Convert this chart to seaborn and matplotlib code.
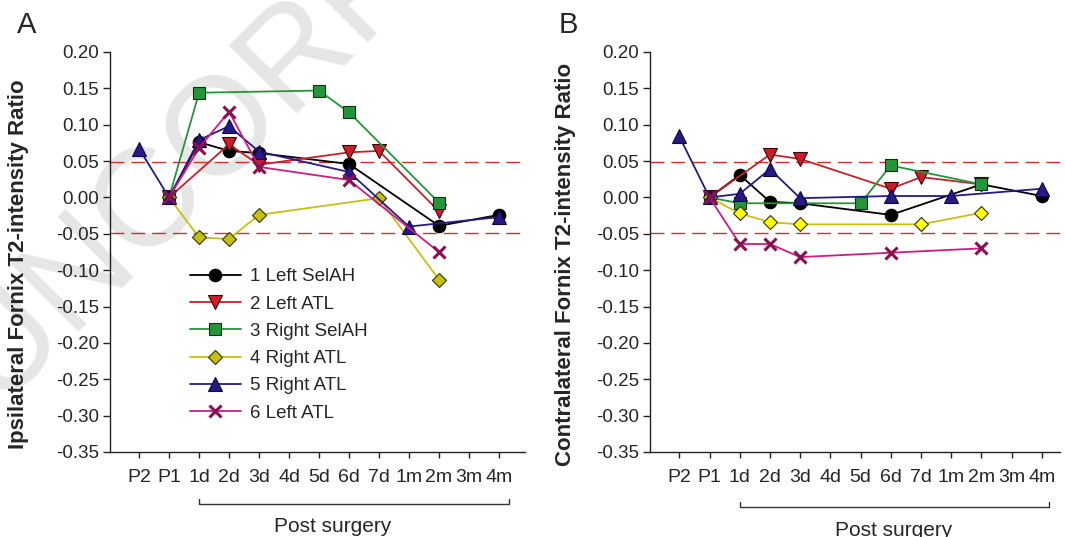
import numpy as np
import pandas as pd
import matplotlib
matplotlib.use("Agg")
import matplotlib.pyplot as plt
import matplotlib.transforms as mtrans
import seaborn as sns

nan = np.nan
time_labels = ["P2", "P1", "1d", "2d", "3d", "4d", "5d", "6d", "7d", "1m", "2m", "3m", "4m"]
series_names = ["1 Left SelAH", "2 Left ATL", "3 Right SelAH", "4 Right ATL", "5 Right ATL", "6 Left ATL"]

# Panel A: ipsilateral
ipsi_1 = [nan, 0.000, 0.076, 0.064, 0.061, nan, nan, 0.046, nan, nan, -0.039, nan, -0.024]
ipsi_2 = [nan, 0.000, nan, 0.073, 0.045, nan, nan, 0.062, 0.064, nan, -0.019, nan, nan]
ipsi_3 = [nan, 0.000, 0.144, nan, nan, nan, 0.147, 0.117, nan, nan, -0.007, nan, nan]
ipsi_4 = [nan, 0.000, -0.055, -0.057, -0.024, nan, nan, nan, -0.001, nan, -0.113, nan, nan]
ipsi_5 = [0.067, 0.000, 0.079, 0.098, 0.063, nan, nan, 0.035, nan, -0.040, nan, nan, -0.027]
ipsi_6 = [nan, 0.000, 0.068, 0.118, 0.042, nan, nan, 0.024, nan, nan, -0.075, nan, nan]

# Panel B: contralateral
contra_1 = [nan, 0.000, 0.031, -0.006, -0.008, nan, nan, -0.024, nan, nan, 0.018, nan, 0.002]
contra_2 = [nan, 0.000, nan, 0.059, 0.053, nan, nan, 0.012, 0.028, nan, 0.018, nan, nan]
contra_3 = [nan, 0.000, -0.008, nan, nan, nan, -0.008, 0.044, nan, nan, 0.018, nan, nan]
contra_4 = [nan, 0.000, -0.022, -0.034, -0.037, nan, nan, nan, -0.037, nan, -0.021, nan, nan]
contra_5 = [0.084, 0.000, 0.005, 0.039, -0.001, nan, nan, 0.002, nan, 0.002, nan, nan, 0.012]
contra_6 = [nan, 0.000, -0.064, -0.064, -0.082, nan, nan, -0.076, nan, nan, -0.070, nan, nan]

threshold = 0.049
yticks = [0.20, 0.15, 0.10, 0.05, 0.00, -0.05, -0.10, -0.15, -0.20, -0.25, -0.30, -0.35]

sns.set_style("ticks")
plt.rcParams["font.family"] = ["Liberation Sans", "DejaVu Sans"]

line_colors = ["#000000", "#c8202a", "#23963a", "#c8c010", "#261a86", "#d01a86"]
markers = ["o", "v", "s", "D", "^", "x"]
msizes = [9, 9.5, 8, 7.5, 9.5, 8]
edge_cols = ["#000000", "#400000", "#103010", "#303000", "#100840", "#600030"]
face_A = ["#000000", "#c8202a", "#23963a", "#c8c010", "#261a86", "#d01a86"]
face_B = ["#000000", "#c8202a", "#23963a", "#ffff00", "#261a86", "#d01a86"]

fig = plt.figure(figsize=(10.65, 5.37), dpi=100)
fig.text(0 / 1065, 1 - 410 / 537, "UNCORRECTED PROOF", rotation=45, fontsize=100,
         color="#e6e6e6", ha="left", va="baseline", rotation_mode="anchor", zorder=-1)

axA = fig.add_axes([110 / 1065, 1 - 452 / 537, 415 / 1065, 400 / 537])
axB = fig.add_axes([650 / 1065, 1 - 452 / 537, 410 / 1065, 400 / 537])

x = np.arange(len(time_labels))

def draw(ax, data, faces, ylabel, xmax, lab_x):
    ax.set_facecolor("none")
    ax.axhline(threshold, color="#d03030", lw=1.0, dashes=(10, 5), zorder=1)
    ax.axhline(-threshold, color="#d03030", lw=1.0, dashes=(10, 5), zorder=1)
    for i, vals in enumerate(data):
        v = np.array(vals, dtype=float)
        m = ~np.isnan(v)
        df = pd.DataFrame({"t": x[m], "v": v[m]})
        kw = dict(marker=markers[i], markersize=msizes[i], color=line_colors[i],
                  markerfacecolor=faces[i], markeredgecolor=edge_cols[i],
                  markeredgewidth=0.8, linewidth=1.3, label=series_names[i], zorder=3 + i)
        if markers[i] == "x":
            kw["markeredgewidth"] = 2.2
            kw["markeredgecolor"] = "#8a1050"
        sns.lineplot(data=df, x="t", y="v", ax=ax, sort=False, **kw)
    ax.set_xlim(-0.97, xmax)
    ax.set_ylim(-0.35, 0.20)
    ax.set_yticks(yticks)
    ax.set_yticklabels([f"{t:.2f}" for t in yticks], fontsize=13.5)
    ax.set_xticks(x)
    ax.set_xticklabels(time_labels, fontsize=14)
    ax.tick_params(axis="both", direction="out", length=5, width=1, color="#222222", pad=3)
    ax.tick_params(axis="x", pad=8, length=4)
    ax.set_xlabel("")
    ax.set_ylabel(ylabel, fontsize=16, fontweight="bold")
    ax.yaxis.set_label_coords(lab_x, 0.47)
    for s in ["top", "right"]:
        ax.spines[s].set_visible(False)
    for s in ["left", "bottom"]:
        ax.spines[s].set_linewidth(1.0)
        ax.spines[s].set_color("#222222")
    if ax.get_legend() is not None:
        ax.get_legend().remove()

draw(axA, [ipsi_1, ipsi_2, ipsi_3, ipsi_4, ipsi_5, ipsi_6], face_A,
     "Ipsilateral Fornix T2-intensity Ratio", 12.87, -0.195)
draw(axB, [contra_1, contra_2, contra_3, contra_4, contra_5, contra_6], face_B,
     "Contralateral Fornix T2-intensity Ratio", 12.6, -0.18)

# legend in panel A
h, l = axA.get_legend_handles_labels()
axA.legend(h, l, loc="upper left", bbox_to_anchor=(0.175, 0.478), frameon=False,
           fontsize=13.5, handlelength=2.7, handletextpad=0.5, labelspacing=0.54,
           borderaxespad=0)

# Post surgery brackets
for ax, yb, yt, xt, xe in [(axA, -0.13, -0.185, 6.45, 12.35), (axB, -0.137, -0.195, 7.1, 12.25)]:
    tr = mtrans.blended_transform_factory(ax.transData, ax.transAxes)
    ax.plot([2, 2, xe, xe], [yb + 0.013, yb, yb, yb + 0.013], color="#333333", lw=1.0,
            transform=tr, clip_on=False)
    ax.text(xt, yt, "Post surgery", transform=tr, ha="center", va="center", fontsize=15)

fig.text(27 / 1065, 1 - 25 / 537, "A", fontsize=21, ha="center", va="center")
fig.text(568 / 1065, 1 - 25 / 537, "B", fontsize=21, ha="center", va="center")

fig.savefig("out.png", dpi=100)
